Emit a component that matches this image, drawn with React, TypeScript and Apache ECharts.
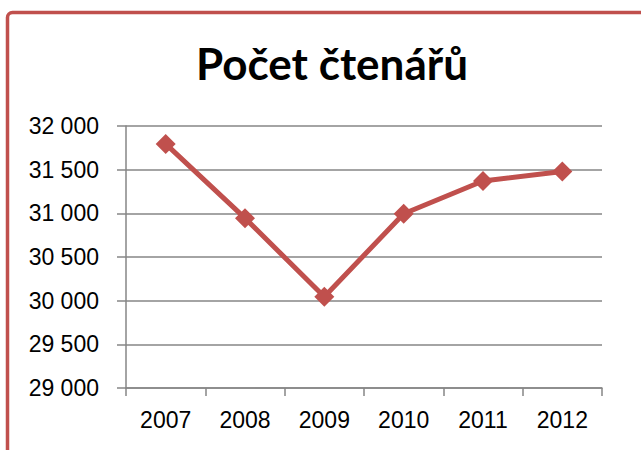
import React, { useEffect, useRef } from "react";
import * as echarts from "echarts";

const title = "Počet čtenářů";
const categories = ["2007", "2008", "2009", "2010", "2011", "2012"];
const readers = [31795, 30945, 30045, 30995, 31370, 31480];
const yMin = 29000;
const yMax = 32000;
const yStep = 500;

const fmt = (v: number) => String(v).replace(/\B(?=(\d{3})+(?!\d))/g, " ");

export default function App() {
  const ref = useRef<HTMLDivElement>(null);
  useEffect(() => {
    if (!ref.current) return;
    const chart = echarts.init(ref.current, undefined, { renderer: "svg" });
    const gray = "#868686";
    chart.setOption({
      animation: false,
      backgroundColor: "#ffffff",
      graphic: [
        {
          type: "rect",
          shape: { x: 7.5, y: 12.5, width: 700, height: 500, r: 5 },
          style: { fill: "none", stroke: "#C0504D", lineWidth: 3.5 },
          z: 10,
        },
      ],
      title: {
        text: title,
        left: 327,
        textAlign: "center",
        top: 36,
        textStyle: {
          fontFamily: "Lato",
          fontWeight: "bold",
          fontSize: 44,
          color: "#000",
        },
      },
      grid: { left: 126, right: 39, top: 126, bottom: 62 },
      xAxis: {
        type: "category",
        data: categories,
        boundaryGap: true,
        axisLine: { lineStyle: { color: gray, width: 1.5 } },
        axisTick: { show: true, length: 8, alignWithLabel: false, lineStyle: { color: gray, width: 1.5 } },
        axisLabel: { color: "#000", fontSize: 23, fontFamily: "Liberation Sans", margin: 20 },
        splitLine: { show: false },
      },
      yAxis: {
        type: "value",
        min: yMin,
        max: yMax,
        interval: yStep,
        axisLine: { show: true, lineStyle: { color: gray, width: 1.5 } },
        axisTick: { show: true, length: 9, lineStyle: { color: gray, width: 1.5 } },
        axisLabel: {
          color: "#000",
          fontSize: 23,
          fontFamily: "Liberation Sans",
          margin: 27,
          formatter: (v: number) => fmt(v),
        },
        splitLine: { show: true, lineStyle: { color: gray, width: 1.5 } },
      },
      series: [
        {
          type: "line",
          data: readers,
          symbol: "diamond",
          symbolSize: 20,
          lineStyle: { color: "#C0504D", width: 5 },
          itemStyle: { color: "#C0504D" },
        },
      ],
    });
    return () => chart.dispose();
  }, []);
  return <div ref={ref} style={{ width: 641, height: 450, position: "absolute", left: 0, top: 0 }} />;
}
